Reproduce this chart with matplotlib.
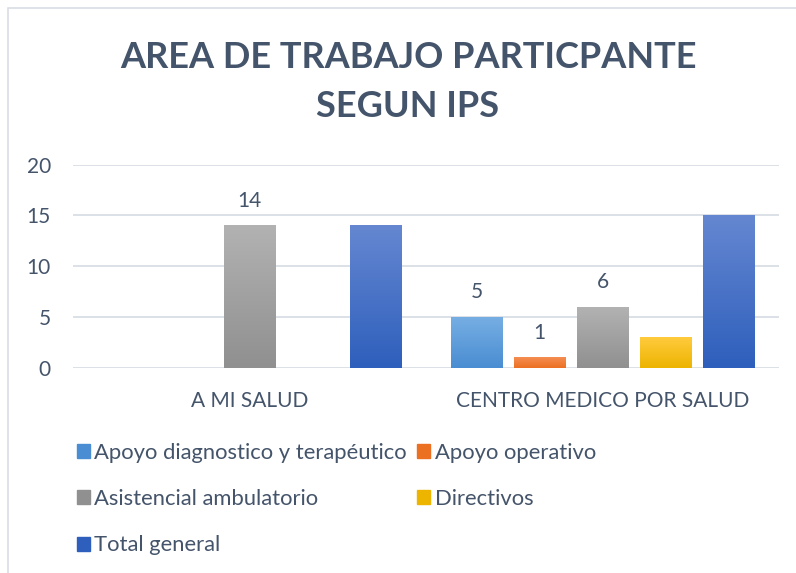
import matplotlib.pyplot as plt
import matplotlib.patches as mpatches
import numpy as np
from matplotlib.colors import to_rgb

plt.rcParams['font.family'] = ['Lato', 'DejaVu Sans']

categories = ['A MI SALUD', 'CENTRO MEDICO POR SALUD']
series = ['Apoyo diagnostico y terapéutico', 'Apoyo operativo',
          'Asistencial ambulatorio', 'Directivos', 'Total general']
values = {
    'Apoyo diagnostico y terapéutico': [0, 5],
    'Apoyo operativo': [0, 1],
    'Asistencial ambulatorio': [14, 6],
    'Directivos': [0, 3],
    'Total general': [14, 15],
}
# which values carry a data label
labeled = {
    'Apoyo diagnostico y terapéutico': [False, True],
    'Apoyo operativo': [False, True],
    'Asistencial ambulatorio': [True, True],
    'Directivos': [False, False],
    'Total general': [False, False],
}
# (top colour, bottom colour) of the gradient
colors = {
    'Apoyo diagnostico y terapéutico': ('#76AEE3', '#4A8DD2'),
    'Apoyo operativo': ('#F58D52', '#EC7022'),
    'Asistencial ambulatorio': ('#B2B2B2', '#909090'),
    'Directivos': ('#FFCB3D', '#EDB400'),
    'Total general': ('#6587D1', '#2E5FBC'),
}

text_col = '#44546A'
grid_col = '#DCE1E8'

fig = plt.figure(figsize=(7.96, 5.73), dpi=100)
fig.patches.append(mpatches.Rectangle((8 / 796, -0.1), 1.2, 1 - 8 / 573 + 0.1,
                                      transform=fig.transFigure, fill=False,
                                      edgecolor='#D9DEE5', linewidth=1.2))

ax = fig.add_axes([73 / 796, 1 - 367.7 / 573, 706 / 796, 203 / 573])

x = np.arange(len(categories))
step = 0.1785
width = 0.147
handles = []
for i, s in enumerate(series):
    offs = x + (i - 2) * step
    bars = ax.bar(offs, values[s], width, color=colors[s][1], zorder=2)
    top, bot = np.array(to_rgb(colors[s][0])), np.array(to_rgb(colors[s][1]))
    grad = np.linspace(0, 1, 64)[:, None]
    img = top * (1 - grad[..., None]) + bot * grad[..., None]
    for b, v, lab in zip(bars, values[s], labeled[s]):
        if v > 0:
            b.set_facecolor('none')
            ax.imshow(img, extent=(b.get_x(), b.get_x() + b.get_width(), 0, v),
                      aspect='auto', zorder=2, interpolation='bilinear')
        if lab:
            ax.annotate(str(v), (b.get_x() + b.get_width() / 2, v),
                        xytext=(0, 18), textcoords='offset points',
                        ha='center', va='center', fontsize=15, color=text_col)
    handles.append(mpatches.Patch(color=colors[s][1], label=s))

ax.set_xlim(-0.5, 1.5)
ax.set_ylim(0, 20)
ax.set_yticks([0, 5, 10, 15, 20])
ax.set_xticks(x)
ax.set_xticklabels(categories)
ax.yaxis.grid(True, color=grid_col, linewidth=1.4, zorder=0)
ax.set_axisbelow(True)
for sp in ax.spines.values():
    sp.set_visible(False)
ax.tick_params(length=0, labelsize=15, labelcolor=text_col)
ax.tick_params(axis='x', pad=17)
ax.tick_params(axis='y', pad=16)

fig.text(408 / 796, 1 - 82 / 573, 'AREA DE TRABAJO PARTICPANTE\nSEGUN IPS',
         ha='center', va='center', fontsize=26, fontweight='bold',
         color=text_col, linespacing=1.6)

order = [0, 2, 4, 1, 3]
leg = fig.legend([handles[k] for k in order], [series[k] for k in order],
                 loc='upper left', bbox_to_anchor=(57 / 796, 1 - 423 / 573),
                 ncol=2, frameon=False, fontsize=15.8, handlelength=0.6,
                 handleheight=0.6, handletextpad=0.2, columnspacing=0.47,
                 labelspacing=1.2, labelcolor=text_col)

fig.savefig('out.png', dpi=100)
